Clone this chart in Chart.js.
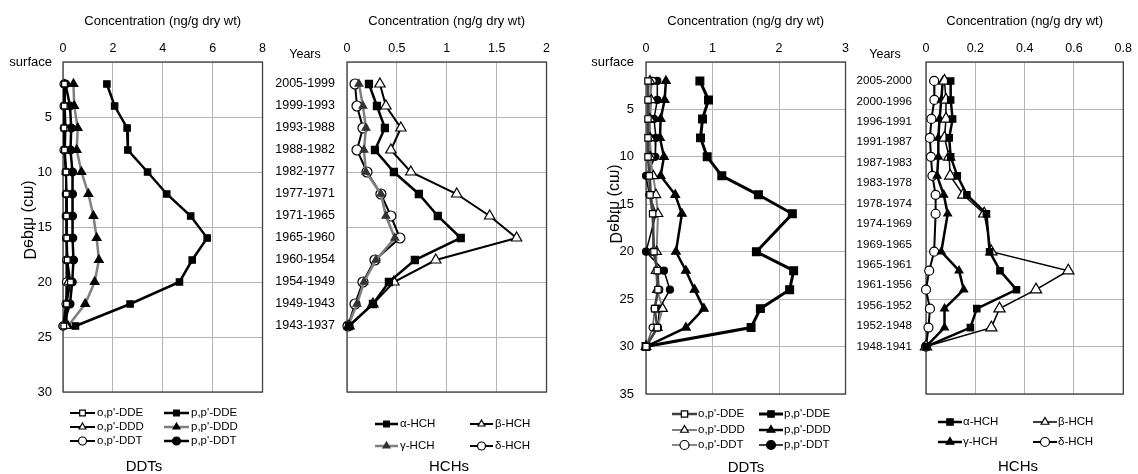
<!DOCTYPE html>
<html>
<head>
<meta charset="utf-8">
<script src="https://cdn.jsdelivr.net/npm/chart.js@4.4.0/dist/chart.umd.min.js"></script>
<style>
  body { margin: 0; background: #fff; }
  #wrap { position: relative; width: 1138px; height: 474px; }
  #wrap canvas { position: absolute; top: 0; }
</style>
</head>
<body>
<div id="wrap">
  <canvas id="c1" width="272" height="474" style="left:0px"></canvas>
  <canvas id="c2" width="284" height="474" style="left:272px"></canvas>
  <canvas id="c3" width="295" height="474" style="left:560px"></canvas>
  <canvas id="c4" width="293" height="474" style="left:845px"></canvas>
</div>
<script>
// core 1 (left pair): 2 cm slices down to 24 cm
const depthsA = [2, 4, 6, 8, 10, 12, 14, 16, 18, 20, 22, 24];
const yearsA = ['2005-1999', '1999-1993', '1993-1988', '1988-1982', '1982-1977', '1977-1971',
  '1971-1965', '1965-1960', '1960-1954', '1954-1949', '1949-1943', '1943-1937'];

const opDDE_A = [0.06, 0.05, 0.04, 0.06, 0.12, 0.13, 0.14, 0.15, 0.17, 0.30, 0.14, 0.03];
const ppDDE_A = [1.76, 2.07, 2.57, 2.60, 3.39, 4.16, 5.12, 5.78, 5.18, 4.67, 2.69, 0.50];
const opDDD_A = [0.08, 0.08, 0.10, 0.08, 0.12, 0.14, 0.15, 0.16, 0.18, 0.20, 0.15, 0.15];
const ppDDD_A = [0.42, 0.45, 0.59, 0.55, 0.74, 1.02, 1.22, 1.35, 1.44, 1.27, 0.89, 0.20];
const opDDT_A = [0.04, 0.04, 0.05, 0.04, 0.12, 0.13, 0.13, 0.14, 0.15, 0.14, 0.12, 0.00];
const ppDDT_A = [0.10, 0.28, 0.33, 0.30, 0.38, 0.38, 0.38, 0.39, 0.42, 0.37, 0.28, 0.00];

const alphaA = [0.22, 0.30, 0.38, 0.28, 0.47, 0.72, 0.91, 1.14, 0.68, 0.42, 0.26, 0.02];
const betaA  = [0.33, 0.39, 0.54, 0.44, 0.64, 1.10, 1.43, 1.70, 0.89, 0.47, 0.26, 0.02];
const gammaA = [0.12, 0.16, 0.19, 0.17, 0.19, 0.34, 0.39, 0.48, 0.29, 0.17, 0.10, 0.01];
const deltaA = [0.08, 0.10, 0.16, 0.10, 0.20, 0.34, 0.44, 0.53, 0.28, 0.16, 0.08, 0.01];

// core 2 (right pair): no slice at 18 cm
const depthsB = [2, 4, 6, 8, 10, 12, 14, 16, 20, 22, 24, 26, 28, 30];
const yearsB = ['2005-2000', '2000-1996', '1996-1991', '1991-1987', '1987-1983', '1983-1978', '1978-1974',
  '1974-1969', '1969-1965', '1965-1961', '1961-1956', '1956-1952', '1952-1948', '1948-1941'];

const opDDE_B = [0.03, 0.03, 0.03, 0.03, 0.03, 0.05, 0.06, 0.10, 0.12, 0.17, 0.18, 0.13, 0.17, 0];
const ppDDE_B = [0.81, 0.94, 0.85, 0.82, 0.92, 1.14, 1.69, 2.20, 1.66, 2.22, 2.16, 1.72, 1.58, 0];
const opDDD_B = [0.06, 0.08, 0.06, 0.06, 0.06, 0.11, 0.15, 0.18, 0.16, 0.15, 0.17, 0.25, 0.17, 0];
const ppDDD_B = [0.30, 0.28, 0.22, 0.21, 0.27, 0.22, 0.44, 0.54, 0.45, 0.60, 0.73, 0.87, 0.60, 0];
const opDDT_B = [0.10, 0.05, 0.06, 0.06, 0.08, 0.06, 0.08, 0.12, 0.10, 0.17, 0.20, 0.13, 0.10, 0];
const ppDDT_B = [0.17, 0.17, 0.12, 0.15, 0.14, 0.00, 0.05, 0.15, 0.00, 0.27, 0.36, 0.20, 0.18, 0];

const alphaB = [0.100, 0.100, 0.108, 0.094, 0.100, 0.127, 0.166, 0.245, 0.258, 0.300, 0.367, 0.206, 0.180, 0];
const betaB  = [0.075, 0.081, 0.081, 0.075, 0.094, 0.098, 0.151, 0.236, 0.265, 0.577, 0.446, 0.298, 0.265, 0];
const gammaB = [0.068, 0.062, 0.055, 0.050, 0.050, 0.045, 0.072, 0.088, 0.062, 0.134, 0.153, 0.075, 0.075, 0];
const deltaB = [0.033, 0.034, 0.022, 0.016, 0.020, 0.026, 0.039, 0.039, 0.033, 0.013, 0.000, 0.016, 0.010, 0];

const FONT = "'Liberation Sans', Arial, sans-serif";
const BLACK = '#000000';
const GRAY = '#7f7f7f';
const GRID = '#b4b4b4';

Chart.defaults.font.family = FONT;
Chart.defaults.color = '#000';
Chart.defaults.animation = false;

function series(label, values, depths, st) {
  return {
    label,
    data: values.map((v, i) => ({ x: v, y: depths[i] })),
    borderColor: st.line,
    borderWidth: st.lw,
    pointStyle: st.shape,
    pointRadius: st.r,
    pointBackgroundColor: st.open ? '#fff' : (st.fill || BLACK),
    pointBorderColor: st.edge || BLACK,
    pointBorderWidth: st.pw || 1.2,
    tension: 0,
    fill: false,
    clip: false,
  };
}

// frame, rotated axis title, "Years" header, two-column legend and panel caption
const decor = {
  id: 'decor',
  beforeDatasetsDraw(chart) {
    const { ctx, chartArea: a } = chart;
    ctx.save();
    ctx.strokeStyle = '#404040';
    ctx.lineWidth = 1.3;
    ctx.strokeRect(a.left, a.top, a.right - a.left, a.bottom - a.top);
    ctx.restore();
  },
  afterDraw(chart, args, o) {
    const ctx = chart.ctx;
    ctx.save();
    ctx.fillStyle = '#000';
    ctx.textBaseline = 'middle';
    if (o.yTitle) {
      ctx.save();
      ctx.translate(o.yTitle.x, o.yTitle.y);
      ctx.rotate(-Math.PI / 2);
      ctx.scale(1, -1);
      ctx.font = `16px ${FONT}`;
      ctx.textAlign = 'center';
      ctx.fillText('Depth (cm)', 0, 0);
      ctx.restore();
    }
    if (o.years) {
      ctx.font = `12.5px ${FONT}`;
      ctx.textAlign = 'center';
      ctx.fillText('Years', o.years.x, o.years.y);
    }
    const lg = o.legend;
    chart.data.datasets.forEach((ds, i) => {
      const col = lg.cols[i % 2];
      const y = lg.rows[Math.floor(i / 2)];
      ctx.strokeStyle = ds.borderColor;
      ctx.lineWidth = ds.borderWidth;
      ctx.beginPath();
      ctx.moveTo(col[0], y);
      ctx.lineTo(col[1], y);
      ctx.stroke();
      ctx.fillStyle = ds.pointBackgroundColor;
      ctx.strokeStyle = ds.pointBorderColor;
      ctx.lineWidth = ds.pointBorderWidth;
      Chart.helpers.drawPoint(ctx, {
        pointStyle: ds.pointStyle, radius: lg.r, rotation: 0, borderWidth: ds.pointBorderWidth
      }, (col[0] + col[1]) / 2, y);
      ctx.fillStyle = '#000';
      ctx.font = `11.5px ${FONT}`;
      ctx.textAlign = 'left';
      ctx.fillText(ds.label, col[2], y);
    });
    ctx.font = `15px ${FONT}`;
    ctx.textAlign = 'center';
    ctx.fillText(o.caption.text, o.caption.x, o.caption.y);
    ctx.restore();
  }
};

function panel(id, cfg) {
  const xAxis = {
    type: 'linear',
    position: 'top',
    min: 0, max: cfg.xMax,
    afterFit: s => { s.height = 62; },
    ticks: { stepSize: cfg.xStep, padding: 6, font: { size: 12.5 }, callback: v => String(+v.toFixed(2)) },
    grid: { color: GRID, drawTicks: false },
    border: { display: false },
    title: { display: true, text: 'Concentration (ng/g dry wt)', font: { size: 13 }, padding: { top: 14, bottom: 0 } },
  };
  const scales = { x: xAxis };
  if (cfg.years) {
    // grid-only depth axis plus a label axis carrying the dating
    scales.y = {
      type: 'linear', position: 'left', reverse: true, min: 0, max: cfg.yMax, weight: 0,
      afterFit: s => { s.width = 0; },
      ticks: { display: false, stepSize: 5 },
      grid: { color: GRID, drawTicks: false },
      border: { display: false },
    };
    const n = cfg.years.length;
    const first = cfg.yearSpan[0], last = cfg.yearSpan[1];
    scales.yr = {
      type: 'linear', position: 'left', reverse: true, min: 0, max: cfg.yMax, weight: 1,
      afterFit: s => { s.width = cfg.left; },
      afterBuildTicks: s => {
        s.ticks = cfg.years.map((_, i) => ({ value: first + i * (last - first) / (n - 1) }));
      },
      ticks: {
        autoSkip: false, padding: cfg.tickPad, font: { size: cfg.yearFont },
        callback: (v, i) => cfg.years[i],
      },
      grid: { display: false, drawTicks: false },
      border: { display: false },
    };
  } else {
    scales.y = {
      type: 'linear', position: 'left', reverse: true, min: 0, max: cfg.yMax,
      afterFit: s => { s.width = cfg.left; },
      ticks: { stepSize: 5, padding: cfg.tickPad, font: { size: 13 }, callback: v => (v === 0 ? 'surface' : v) },
      grid: { color: GRID, drawTicks: false },
      border: { display: false },
    };
  }
  return new Chart(document.getElementById(id), {
    type: 'line',
    data: { datasets: cfg.datasets },
    options: {
      responsive: false,
      devicePixelRatio: 1,
      layout: { padding: { left: 0, top: 0, right: cfg.right, bottom: cfg.bottom } },
      scales,
      plugins: {
        legend: { display: false },
        tooltip: { enabled: false },
        decor: cfg.decor,
      },
    },
    plugins: [decor],
  });
}

panel('c1', {
  xMax: 8, xStep: 2, yMax: 30, left: 63, right: 5, bottom: 82, tickPad: 11,
  datasets: [
    series("o,p'-DDE", opDDE_A, depthsA, { line: BLACK, lw: 2, shape: 'rect', r: 4, open: true }),
    series("p,p'-DDE", ppDDE_A, depthsA, { line: BLACK, lw: 2.5, shape: 'rect', r: 4.5 }),
    series("o,p'-DDD", opDDD_A, depthsA, { line: BLACK, lw: 2, shape: 'triangle', r: 4.5, open: true }),
    series("p,p'-DDD", ppDDD_A, depthsA, { line: GRAY, lw: 2.5, shape: 'triangle', r: 5 }),
    series("o,p'-DDT", opDDT_A, depthsA, { line: BLACK, lw: 2, shape: 'circle', r: 4, open: true }),
    series("p,p'-DDT", ppDDT_A, depthsA, { line: BLACK, lw: 2.5, shape: 'circle', r: 4 }),
  ],
  decor: {
    yTitle: { x: 28, y: 220 },
    legend: { r: 4, rows: [413, 427, 441], cols: [[70, 95, 97], [164, 189, 191]] },
    caption: { text: 'DDTs', x: 144, y: 467 },
  },
});

panel('c2', {
  xMax: 2, xStep: 0.5, yMax: 30, left: 75, right: 5, bottom: 82, tickPad: 12, yearFont: 12.5,
  years: yearsA, yearSpan: [depthsA[0], depthsA[depthsA.length - 1]],
  datasets: [
    series('α-HCH', alphaA, depthsA, { line: BLACK, lw: 2.5, shape: 'rect', r: 5 }),
    series('β-HCH', betaA, depthsA, { line: BLACK, lw: 2, shape: 'triangle', r: 6, open: true }),
    series('γ-HCH', gammaA, depthsA, { line: GRAY, lw: 2.5, shape: 'triangle', r: 4.5, fill: '#333', edge: '#333' }),
    series('δ-HCH', deltaA, depthsA, { line: BLACK, lw: 2, shape: 'circle', r: 5, open: true }),
  ],
  decor: {
    years: { x: 33, y: 55 },
    legend: { r: 4, rows: [424, 446], cols: [[103, 126, 128], [198, 221, 223]] },
    caption: { text: 'HCHs', x: 177, y: 467 },
  },
});

panel('c3', {
  xMax: 3, xStep: 1, yMax: 35, left: 86, right: 6, bottom: 80, tickPad: 12,
  datasets: [
    series("o,p'-DDE", opDDE_B, depthsB, { line: '#404040', lw: 2.5, shape: 'rect', r: 4.5, open: true }),
    series("p,p'-DDE", ppDDE_B, depthsB, { line: BLACK, lw: 3, shape: 'rect', r: 5.5 }),
    series("o,p'-DDD", opDDD_B, depthsB, { line: GRAY, lw: 2, shape: 'triangle', r: 5.5, open: true }),
    series("p,p'-DDD", ppDDD_B, depthsB, { line: BLACK, lw: 2.5, shape: 'triangle', r: 5 }),
    series("o,p'-DDT", opDDT_B, depthsB, { line: '#606060', lw: 1.5, shape: 'circle', r: 3.5, open: true }),
    series("p,p'-DDT", ppDDT_B, depthsB, { line: BLACK, lw: 1.5, shape: 'circle', r: 3.5 }),
  ],
  decor: {
    yTitle: { x: 54, y: 204 },
    legend: { r: 4.5, rows: [414, 430, 445], cols: [[112, 137, 138], [199, 223, 224]] },
    caption: { text: 'DDTs', x: 186, y: 468 },
  },
});

panel('c4', {
  xMax: 0.8, xStep: 0.2, yMax: 35, left: 81, right: 9, bottom: 80, tickPad: 14, yearFont: 11.6,
  years: yearsB, yearSpan: [depthsB[0], depthsB[depthsB.length - 1]],
  datasets: [
    series('α-HCH', alphaB, depthsB, { line: BLACK, lw: 2.5, shape: 'rect', r: 4.5 }),
    series('β-HCH', betaB, depthsB, { line: BLACK, lw: 1.5, shape: 'triangle', r: 6.5, open: true }),
    series('γ-HCH', gammaB, depthsB, { line: BLACK, lw: 2.5, shape: 'triangle', r: 4.5 }),
    series('δ-HCH', deltaB, depthsB, { line: BLACK, lw: 2, shape: 'circle', r: 4.5, open: true }),
  ],
  decor: {
    years: { x: 40, y: 55 },
    legend: { r: 4.5, rows: [422, 442], cols: [[93, 117, 118], [188, 212, 213]] },
    caption: { text: 'HCHs', x: 173, y: 467 },
  },
});
</script>
</body>
</html>
